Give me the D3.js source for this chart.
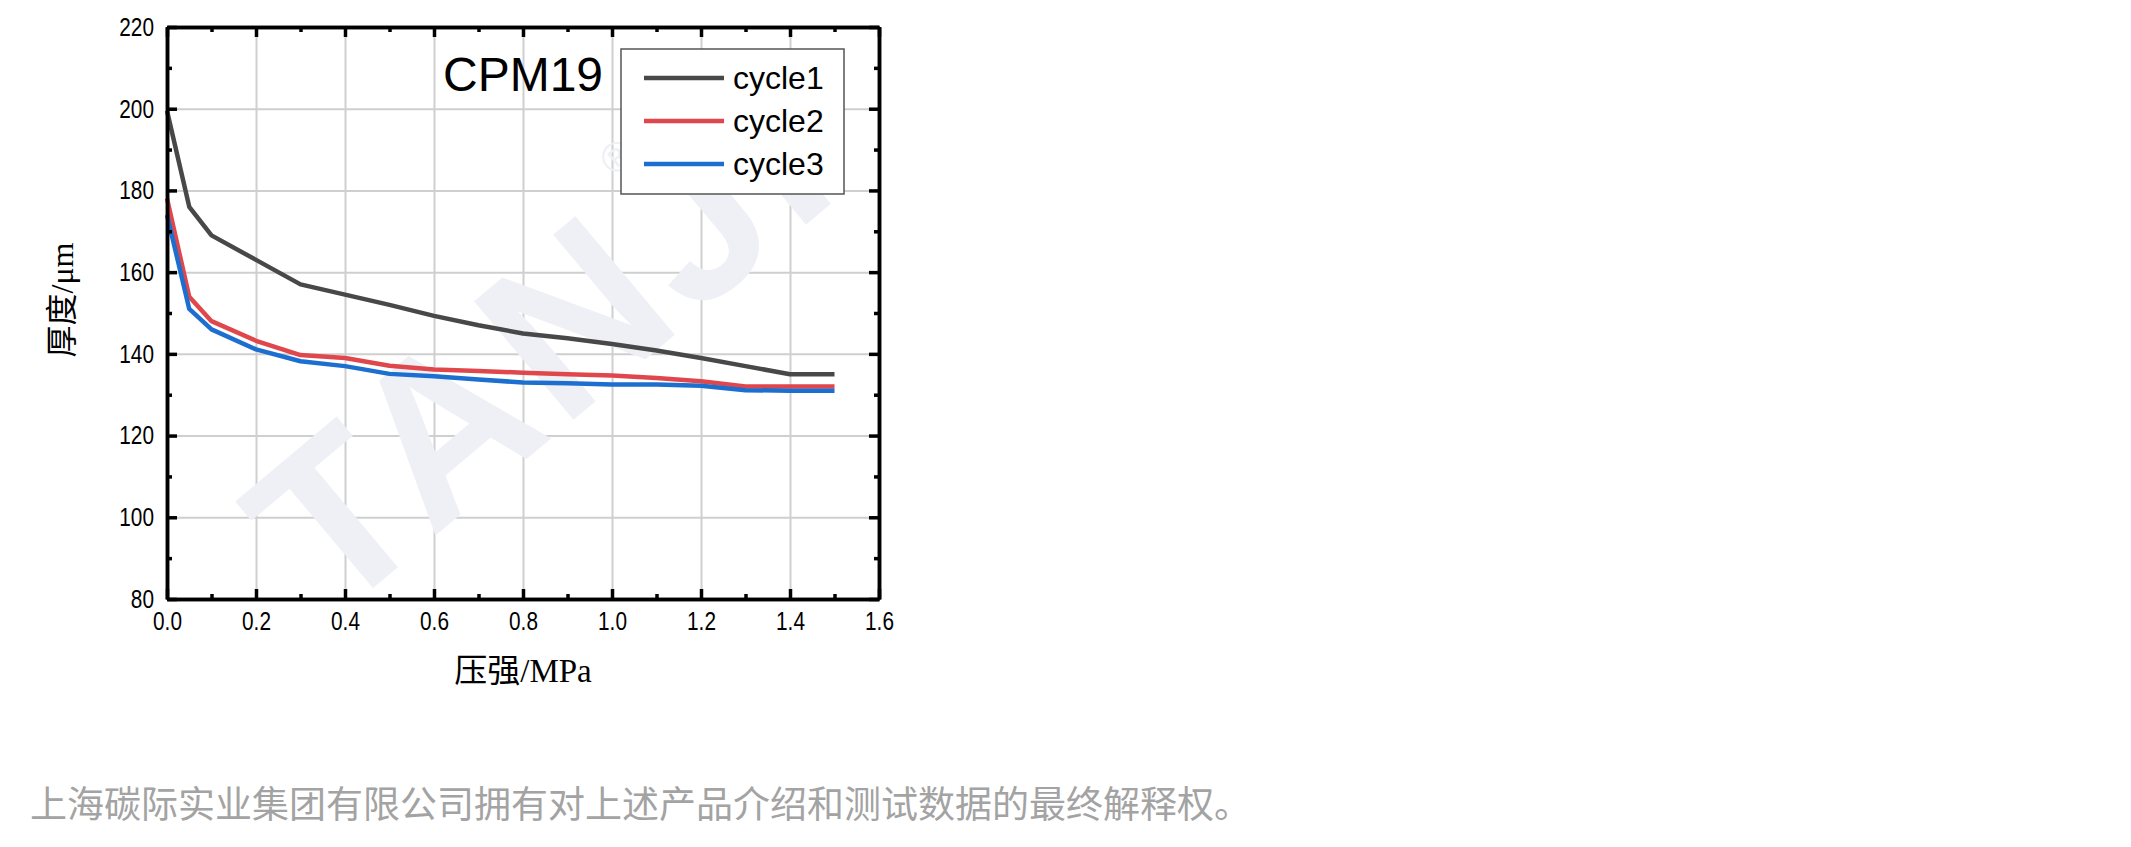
<!DOCTYPE html>
<html>
<head>
<meta charset="utf-8">
<script src="https://cdn.jsdelivr.net/npm/d3@7"></script>
<style>
  body { margin: 0; background: #fff; }
  svg { display: block; }
</style>
</head>
<body>
<div id="chart"></div>
<script>
// data
let pressure = [0, 0.05, 0.1, 0.2, 0.3, 0.4, 0.5, 0.6, 0.7, 0.8, 0.9, 1.0, 1.1, 1.2, 1.3, 1.4, 1.5];
let cycle1 = [199.5, 176, 169, 163, 157, 154.5, 152, 149.3, 147, 145, 143.8, 142.4, 140.8, 139, 137, 135, 135];
let cycle2 = [178, 154, 148, 143.2, 139.7, 139, 137.1, 136.2, 135.8, 135.4, 135, 134.7, 134.1, 133.3, 132, 132, 132];
let cycle3 = [174, 151, 146, 141.1, 138.2, 137, 135.1, 134.5, 133.7, 133, 132.8, 132.5, 132.5, 132.2, 131.1, 131, 131];
let seriesNames = ['cycle1', 'cycle2', 'cycle3'];
let xTicks = [0, 0.2, 0.4, 0.6, 0.8, 1.0, 1.2, 1.4, 1.6];
let yTicks = [80, 100, 120, 140, 160, 180, 200, 220];

let W = 2131, H = 847;
let margin = { top: 27, left: 167, right: 2131 - 879, bottom: 847 - 599 };

let colors = ['#484848', '#e0474c', '#1d6fcf'];
let allSeries = [cycle1, cycle2, cycle3];

let svg = d3.select('#chart')
  .append('svg')
  .attr('width', W)
  .attr('height', H)
  .style('background-color', '#fff');

let xScale = d3.scaleLinear()
  .domain([0, 1.6])
  .range([margin.left, W - margin.right]);

let yScale = d3.scaleLinear()
  .domain([80, 220])
  .range([H - margin.bottom, margin.top]);

let plotW = xScale.range()[1] - xScale.range()[0];
let plotH = yScale.range()[0] - yScale.range()[1];

// gridlines
svg.append('g')
  .attr('class', 'grid')
  .attr('transform', `translate(0,${H - margin.bottom})`)
  .call(d3.axisBottom(xScale).tickValues(xTicks).tickSize(-plotH).tickFormat(''))
  .call(g => g.select('.domain').remove());

svg.append('g')
  .attr('class', 'grid')
  .attr('transform', `translate(${margin.left},0)`)
  .call(d3.axisLeft(yScale).tickValues(yTicks).tickSize(-plotW).tickFormat(''))
  .call(g => g.select('.domain').remove());

svg.selectAll('.grid line')
  .attr('stroke', '#cfcfcf')
  .attr('stroke-width', 2);

// watermark
let wm = svg.append('g')
  .attr('transform', 'translate(540,345) rotate(-40)');
wm.append('text')
  .attr('text-anchor', 'middle')
  .attr('dy', '0.35em')
  .style('font-family', 'Liberation Sans, Arial, sans-serif')
  .style('font-weight', 'bold')
  .style('font-size', '225px')
  .style('letter-spacing', '8px')
  .attr('fill', '#eef0f6')
  .text('TANJI');
wm.append('text')
  .attr('x', 180)
  .attr('y', -95)
  .attr('text-anchor', 'middle')
  .attr('dy', '0.35em')
  .style('font-family', 'Liberation Sans, Arial, sans-serif')
  .style('font-size', '42px')
  .attr('fill', '#eef0f6')
  .text('®');

// lines
let line = d3.line()
  .x((d, i) => xScale(pressure[i]))
  .y(d => yScale(d));

svg.selectAll('.series')
  .data(allSeries)
  .enter()
  .append('path')
  .attr('class', 'series')
  .attr('d', d => line(d))
  .attr('fill', 'none')
  .attr('stroke', (d, i) => colors[i])
  .attr('stroke-width', 4.5)
  .attr('stroke-linejoin', 'round');

// axes frame with inward ticks
let tickFont = 'Liberation Sans, Arial, sans-serif';
let minorX = d3.range(0.1, 1.6, 0.2);
let minorY = d3.range(90, 220, 20);

function styleAxis(g) {
  g.select('.domain').attr('stroke', '#000').attr('stroke-width', 3.5);
  g.selectAll('line').attr('stroke', '#000').attr('stroke-width', 3.5);
  g.selectAll('text')
    .attr('fill', '#000')
    .style('font-family', tickFont)
    .style('font-size', '26px')
    .each(function() {
      // the original tick labels are narrow
      let len = this.getComputedTextLength();
      if (len > 0) {
        d3.select(this).attr('textLength', len * 0.8).attr('lengthAdjust', 'spacingAndGlyphs');
      }
    });
}

// bottom
svg.append('g')
  .attr('transform', `translate(0,${H - margin.bottom})`)
  .call(d3.axisBottom(xScale).tickValues(xTicks).tickSizeInner(-10).tickSizeOuter(0).tickPadding(13).tickFormat(d3.format('.1f')))
  .call(styleAxis);
svg.append('g')
  .attr('transform', `translate(0,${H - margin.bottom})`)
  .call(d3.axisBottom(xScale).tickValues(minorX).tickSizeInner(-5).tickSizeOuter(0).tickFormat(''))
  .call(styleAxis);
// top
svg.append('g')
  .attr('transform', `translate(0,${margin.top})`)
  .call(d3.axisTop(xScale).tickValues(xTicks).tickSizeInner(-10).tickSizeOuter(0).tickFormat(''))
  .call(styleAxis);
svg.append('g')
  .attr('transform', `translate(0,${margin.top})`)
  .call(d3.axisTop(xScale).tickValues(minorX).tickSizeInner(-5).tickSizeOuter(0).tickFormat(''))
  .call(styleAxis);
// left
svg.append('g')
  .attr('transform', `translate(${margin.left},0)`)
  .call(d3.axisLeft(yScale).tickValues(yTicks).tickSizeInner(-10).tickSizeOuter(0).tickPadding(13))
  .call(styleAxis);
svg.append('g')
  .attr('transform', `translate(${margin.left},0)`)
  .call(d3.axisLeft(yScale).tickValues(minorY).tickSizeInner(-5).tickSizeOuter(0).tickFormat(''))
  .call(styleAxis);
// right
svg.append('g')
  .attr('transform', `translate(${W - margin.right},0)`)
  .call(d3.axisRight(yScale).tickValues(yTicks).tickSizeInner(-10).tickSizeOuter(0).tickFormat(''))
  .call(styleAxis);
svg.append('g')
  .attr('transform', `translate(${W - margin.right},0)`)
  .call(d3.axisRight(yScale).tickValues(minorY).tickSizeInner(-5).tickSizeOuter(0).tickFormat(''))
  .call(styleAxis);

// axis titles
svg.append('text')
  .attr('transform', 'translate(62,300) rotate(-90)')
  .attr('text-anchor', 'middle')
  .attr('dy', '0.35em')
  .style('font-family', 'Liberation Serif, Noto Sans CJK SC, serif')
  .style('font-size', '32px')
  .attr('fill', '#000')
  .text('厚度/μm');

svg.append('text')
  .attr('x', 523)
  .attr('y', 682)
  .attr('text-anchor', 'middle')
  .style('font-family', 'Liberation Serif, Noto Sans CJK SC, serif')
  .style('font-size', '33px')
  .attr('fill', '#000')
  .text('压强/MPa');

// sample name
svg.append('text')
  .attr('x', 523)
  .attr('y', 91)
  .attr('text-anchor', 'middle')
  .style('font-family', 'Liberation Sans, Arial, sans-serif')
  .style('font-size', '48px')
  .attr('fill', '#000')
  .text('CPM19');

// legend
let legend = svg.append('g').attr('transform', 'translate(621,49)');
legend.append('rect')
  .attr('width', 223)
  .attr('height', 145)
  .attr('fill', '#fff')
  .attr('stroke', '#555')
  .attr('stroke-width', 1.5);

let items = legend.selectAll('.item')
  .data(seriesNames)
  .enter()
  .append('g')
  .attr('class', 'item')
  .attr('transform', (d, i) => `translate(0,${29 + i * 43})`);
items.append('line')
  .attr('x1', 23).attr('x2', 103)
  .attr('stroke', (d, i) => colors[i])
  .attr('stroke-width', 4.5);
items.append('text')
  .attr('x', 112)
  .attr('dy', '0.35em')
  .style('font-family', 'Liberation Sans, Arial, sans-serif')
  .style('font-size', '32px')
  .attr('fill', '#000')
  .text(d => d);

// footer note
svg.append('text')
  .attr('x', 30)
  .attr('y', 818)
  .style('font-family', 'Noto Sans CJK SC, sans-serif')
  .style('font-size', '37px')
  .attr('fill', '#a3a3a3')
  .text('上海碳际实业集团有限公司拥有对上述产品介绍和测试数据的最终解释权。');
</script>
</body>
</html>
